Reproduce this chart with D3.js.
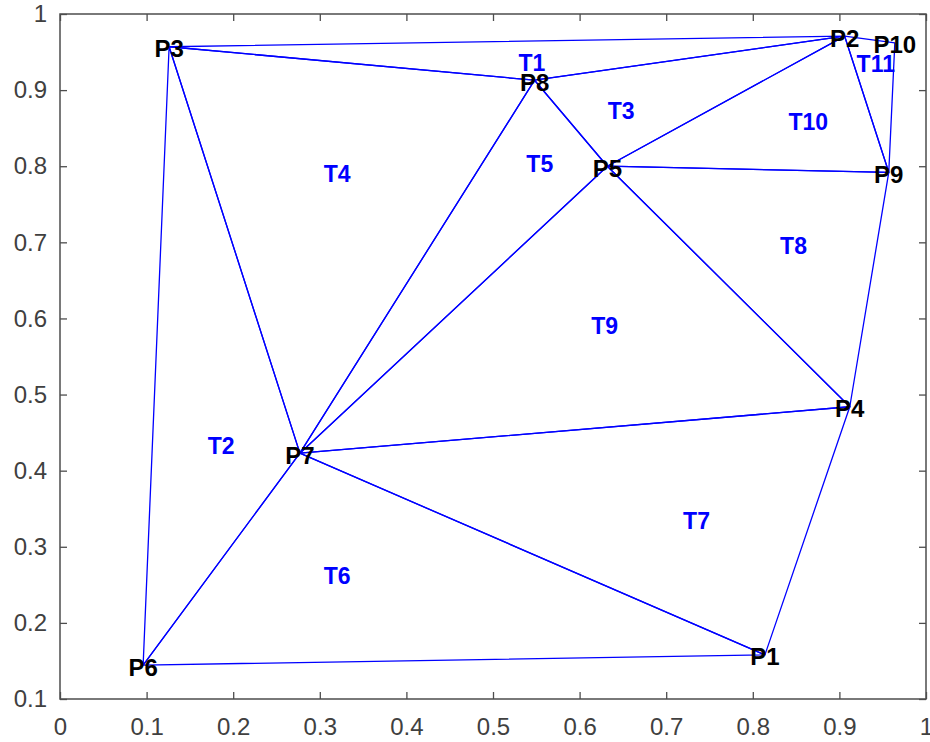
<!DOCTYPE html>
<html>
<head>
<meta charset="utf-8">
<script src="https://cdn.jsdelivr.net/npm/d3@7"></script>
<style>
  html, body { margin: 0; padding: 0; background: #ffffff; }
  svg { display: block; }
</style>
</head>
<body>
<div id="chart"></div>
<script>
// ---- data ----
const pointNames = ["P1","P2","P3","P4","P5","P6","P7","P8","P9","P10"];
const pointX = [0.814, 0.906, 0.126, 0.912, 0.632, 0.096, 0.277, 0.548, 0.957, 0.964];
const pointY = [0.158, 0.971, 0.957, 0.484, 0.800, 0.1445, 0.423, 0.913, 0.792, 0.962];

// triangles (1-based vertex indices)
const triNames = ["T1","T2","T3","T4","T5","T6","T7","T8","T9","T10","T11"];
const triA = [3, 3, 8, 3, 8, 6, 7, 5, 7, 5, 2];
const triB = [8, 6, 2, 7, 7, 7, 1, 9, 5, 2, 10];
const triC = [2, 7, 5, 8, 5, 1, 4, 4, 4, 9, 9];
// triangle label anchor positions (data units)
const triLabelX = [0.545, 0.186, 0.648, 0.320, 0.554, 0.320, 0.735, 0.847, 0.629, 0.864, 0.942];
const triLabelY = [0.937, 0.434, 0.874, 0.791, 0.804, 0.263, 0.335, 0.696, 0.592, 0.860, 0.936];

const xTicks = [0, 0.1, 0.2, 0.3, 0.4, 0.5, 0.6, 0.7, 0.8, 0.9, 1];
const xTickLabels = ["0","0.1","0.2","0.3","0.4","0.5","0.6","0.7","0.8","0.9","1"];
const yTicks = [0.1, 0.2, 0.3, 0.4, 0.5, 0.6, 0.7, 0.8, 0.9, 1];
const yTickLabels = ["0.1","0.2","0.3","0.4","0.5","0.6","0.7","0.8","0.9","1"];

(function () {
// ---- layout ----
const W = 930, H = 742;
const mLeft = 60, mRight = 926, mTop = 14, mBottom = 699;

const x = d3.scaleLinear().domain([0, 1]).range([mLeft, mRight]);
const y = d3.scaleLinear().domain([0.1, 1]).range([mBottom, mTop]);

const svg = d3.select("#chart").append("svg")
  .attr("width", W).attr("height", H)
  .style("font-family", "'Liberation Sans', Arial, Helvetica, sans-serif");

// triangles
const tris = triNames.map((n, i) => [triA[i], triB[i], triC[i]]);
const line = d3.line().x(d => x(pointX[d - 1])).y(d => y(pointY[d - 1]));
svg.append("g").selectAll("path").data(tris).join("path")
  .attr("d", d => line(d) + "Z")
  .attr("fill", "none")
  .attr("stroke", "#0000ff")
  .attr("stroke-width", 1.3)
  .attr("stroke-linejoin", "round");

// axes (box with inward ticks on all sides)
const axisColor = "#4d4d4d";
const tickLen = 7;
const gx = svg.append("g").attr("transform", `translate(0,${mBottom})`)
  .call(d3.axisBottom(x).tickValues(xTicks).tickSize(-tickLen).tickFormat((d, i) => xTickLabels[i]).tickPadding(19));
const gxt = svg.append("g").attr("transform", `translate(0,${mTop})`)
  .call(d3.axisTop(x).tickValues(xTicks).tickSize(-tickLen).tickFormat(""));
const gy = svg.append("g").attr("transform", `translate(${mLeft},0)`)
  .call(d3.axisLeft(y).tickValues(yTicks).tickSize(-tickLen).tickFormat((d, i) => yTickLabels[i]).tickPadding(13));
const gyr = svg.append("g").attr("transform", `translate(${mRight},0)`)
  .call(d3.axisRight(y).tickValues(yTicks).tickSize(-tickLen).tickFormat(""));

[gx, gxt, gy, gyr].forEach(g => {
  g.select(".domain").remove();
  g.selectAll(".tick line").attr("stroke", axisColor).attr("stroke-width", 1.3);
  g.selectAll(".tick text").attr("fill", "#404040").style("font-size", "24px")
    .style("font-family", "'Liberation Sans', Arial, sans-serif");
});
gx.selectAll(".tick text").attr("dy", "0.71em");

svg.append("rect")
  .attr("x", mLeft).attr("y", mTop)
  .attr("width", mRight - mLeft).attr("height", mBottom - mTop)
  .attr("fill", "none").attr("stroke", axisColor).attr("stroke-width", 1.5);

// triangle labels
svg.append("g").selectAll("text").data(triNames).join("text")
  .attr("x", (d, i) => x(triLabelX[i]))
  .attr("y", (d, i) => y(triLabelY[i]))
  .attr("dy", 1)
  .attr("text-anchor", "middle")
  .attr("dominant-baseline", "central")
  .attr("fill", "#0000ff")
  .style("font-size", "23px")
  .style("font-weight", "bold")
  .text(d => d);

// point labels
svg.append("g").selectAll("text").data(pointNames).join("text")
  .attr("x", (d, i) => x(pointX[i]))
  .attr("y", (d, i) => y(pointY[i]))
  .attr("dy", 2)
  .attr("text-anchor", "middle")
  .attr("dominant-baseline", "central")
  .attr("fill", "#000000")
  .style("font-size", "24px")
  .style("font-weight", "bold")
  .text(d => d);
})();
</script>
</body>
</html>
